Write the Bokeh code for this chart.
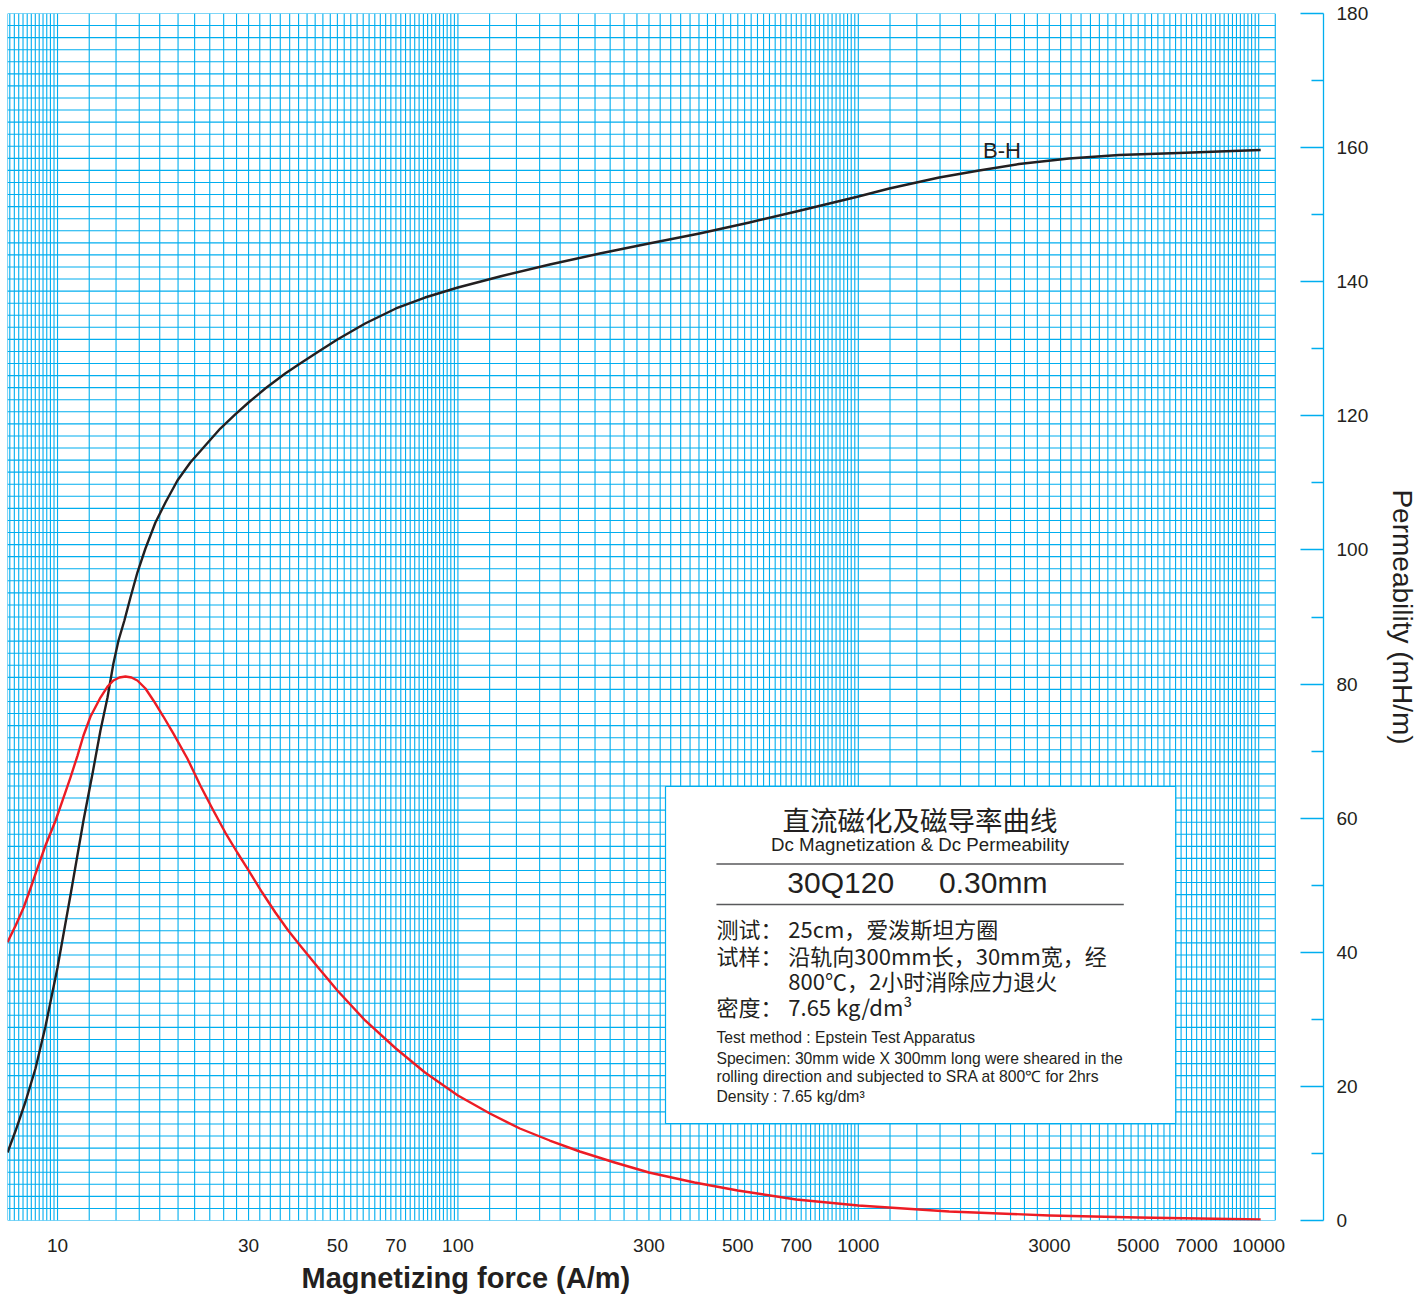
import numpy as np
from bokeh.plotting import figure
from bokeh.models import Range1d, FixedTicker, Label, PrintfTickFormatter, Title
from bokeh.embed import file_html
from bokeh.resources import INLINE

# ---- B-H curve: magnetizing force H (A/m) and flux density B (T) ----
bh_h = [7.5, 7.86, 8.32, 8.81, 9.33, 10, 10.77, 11.61, 12.23, 12.8, 13.33,
        13.79, 14.2, 14.69, 15.21, 15.83, 16.58, 17.56, 18.6, 19.93, 21.46,
        23.39, 25.5, 27.79, 30, 33.02, 37.04, 40.36, 45.28, 50, 58.65, 70,
        82.75, 100, 127.3, 169.6, 226.1, 300, 401.3, 534.9, 700, 846.9, 1000,
        1195, 1592, 2003, 2520, 3359, 4476, 6317, 7950, 10115]
bh_b = [0.1127, 0.1491, 0.1972, 0.2519, 0.3215, 0.4192, 0.5385, 0.6628,
        0.7407, 0.8119, 0.8666, 0.9230, 0.9611, 0.9942, 1.0323, 1.0737,
        1.1135, 1.1566, 1.1897, 1.2262, 1.2560, 1.2842, 1.3123, 1.3356,
        1.3554, 1.3786, 1.4035, 1.4201, 1.4416, 1.4598, 1.4863, 1.5112,
        1.5294, 1.5460, 1.5642, 1.5841, 1.6023, 1.6189, 1.6355, 1.6537,
        1.6719, 1.6852, 1.6968, 1.7100, 1.7283, 1.7399, 1.7506, 1.7597,
        1.7655, 1.7689, 1.7713, 1.7738]

# ---- permeability curve: H (A/m) and permeability (mH/m) ----
mu_h = [7.5, 7.86, 8.23, 8.56, 8.92, 9.33, 9.89, 10.29, 10.77, 11.22, 11.61,
        12.09, 12.8, 13.33, 13.79, 14.27, 14.78, 15.3, 15.83, 16.58, 17.36,
        18.38, 19.46, 21.1, 22.73, 24.35, 26.24, 28.11, 30, 32.45, 35, 37.68,
        40.36, 44.76, 50, 58.65, 70, 82.75, 100, 120.2, 142.8, 169.6, 201.5,
        246.4, 300, 389.9, 500, 700, 1000, 1686, 3000, 5000, 10115]
mu_val = [41.50, 43.99, 46.68, 49.51, 52.64, 55.92, 59.65, 62.63, 66.06,
          69.34, 72.33, 75.16, 77.99, 79.63, 80.53, 80.98, 81.13, 80.98,
          80.53, 79.34, 77.55, 75.16, 72.63, 68.90, 64.87, 61.44, 57.86,
          54.88, 52.20, 48.91, 45.93, 43.25, 41.01, 37.73, 34.30, 29.83,
          25.65, 22.07, 18.64, 15.96, 13.72, 11.93, 10.29, 8.65, 7.16, 5.67,
          4.47, 3.13, 2.24, 1.34, 0.75, 0.45, 0.15]

x_ticks = [10, 30, 50, 70, 100, 300, 500, 700, 1000, 3000, 5000, 7000, 10000]
y_ticks = list(range(0, 181, 20))
y_minor = list(range(10, 180, 20))

CYAN = "#00aeef"
INK = "#231f20"
RED = "#ed1c24"
SANS = "Liberation Sans"
CJK = "Noto Sans CJK SC"

# ---- canvas geometry (pixels) ----
W, H = 1421, 1299
FL, FR, FT, FB = 7, 1325, 13, 1220
PX_PER_DECADE = 401
X0 = 7.5
X_PAPER_END = 11000
x_end = 10 ** (np.log10(X0) + (FR - FL) / PX_PER_DECADE)


def sx(px):
    return 10 ** (np.log10(X0) + (px - FL) / PX_PER_DECADE)


def sy(py):
    return (FB - py) * 180.0 / (FB - FT)


p = figure(width=W, height=H, x_axis_type="log",
           x_range=Range1d(X0, x_end), y_range=Range1d(0, 180),
           y_axis_location="right", output_backend="svg",
           toolbar_location=None,
           min_border_left=FL, min_border_right=W - FR,
           min_border_top=FT, min_border_bottom=H - FB)
p.extra_y_ranges = {"flux": Range1d(0, 2.0)}
p.grid.visible = False
p.outline_line_color = None
p.background_fill_color = "white"
p.border_fill_color = "white"

# ---- log graph paper ----
vx = (list(np.round(np.arange(7.6, 10.01, 0.2), 1)) + list(range(12, 101, 2))
      + list(range(120, 1001, 20)) + list(range(1200, 10001, 200))
      + [X0, X_PAPER_END])
hy = list(np.round(np.arange(0, 180.01, 1.8), 2))
r1 = p.segment(x0=vx, y0=[0] * len(vx), x1=vx, y1=[180] * len(vx),
               line_color=CYAN, line_width=1.1)
r2 = p.segment(x0=[X0] * len(hy), y0=hy, x1=[X_PAPER_END] * len(hy), y1=hy,
               line_color=CYAN, line_width=1.1)
r1.level = "underlay"
r2.level = "underlay"

# ---- curves ----
p.line(bh_h, bh_b, y_range_name="flux", line_color=INK, line_width=2.4,
       line_join="round")
p.line(mu_h, mu_val, line_color=RED, line_width=2.4, line_join="round")

# ---- info box ----
p.quad(left=sx(666), right=sx(1177), top=sy(786), bottom=sy(1123),
       fill_color="white", line_color=CYAN, line_width=1.2)
p.segment(x0=[sx(717), sx(717)], x1=[sx(1125), sx(1125)],
          y0=[sy(863.5), sy(904)], y1=[sy(863.5), sy(904)],
          line_color="#58595b", line_width=1.3)


def add_text(px, py, text, size, font=SANS, align="left", style="normal"):
    p.add_layout(Label(x=sx(px), y=sy(py), text=text, text_font=font,
                       text_font_size=f"{size}px", text_color=INK,
                       text_align=align, text_baseline="middle",
                       text_font_style=style))


add_text(921, 818, "直流磁化及磁导率曲线", 27.5, CJK, "center")
add_text(921, 844, "Dc Magnetization & Dc Permeability", 18.7, SANS, "center")
add_text(788, 882, "30Q120", 30)
add_text(940, 882, "0.30mm", 30)
add_text(717, 927, "测试：", 22, CJK)
add_text(789, 927, "25cm，爱泼斯坦方圈", 22, CJK)
add_text(717, 954, "试样：", 22, CJK)
add_text(789, 954, "沿轨向300mm长，30mm宽，经", 22, CJK)
add_text(789, 979, "800℃，2小时消除应力退火", 22, CJK)
add_text(717, 1005, "密度：", 22, CJK)
add_text(789, 1005, "7.65 kg/dm³", 22, CJK)
add_text(717, 1037, "Test method : Epstein Test Apparatus", 15.7)
add_text(717, 1058, "Specimen: 30mm wide X 300mm long were sheared in the", 15.7)
add_text(717, 1076, "rolling direction and subjected to SRA at 800℃ for 2hrs", 15.7)
add_text(717, 1096, "Density : 7.65 kg/dm³", 15.7)

# curve tag
add_text(1003, 150, "B-H", 22, SANS, "center")

# ---- axes ----
xa = p.xaxis[0]
xa.ticker = FixedTicker(ticks=x_ticks)
xa.formatter = PrintfTickFormatter(format="%d")
xa.axis_line_color = None
xa.major_tick_line_color = None
xa.minor_tick_line_color = None
xa.major_label_text_font = SANS
xa.major_label_text_font_size = "19px"
xa.major_label_text_color = INK
xa.major_label_standoff = 12

# x axis title, placed toward the left of the frame
p.add_layout(Title(text="Magnetizing force (A/m)", align="left", offset=294,
                   text_font=SANS, text_font_size="29px",
                   text_font_style="bold", text_color=INK, standoff=10),
             "below")

ya = p.yaxis[0]
ya.ticker = FixedTicker(ticks=y_ticks, minor_ticks=y_minor)
ya.axis_line_color = CYAN
ya.axis_line_width = 1.3
ya.major_tick_line_color = CYAN
ya.major_tick_line_width = 1.3
ya.minor_tick_line_color = CYAN
ya.minor_tick_line_width = 1.3
ya.major_tick_in = 23
ya.major_tick_out = 0
ya.minor_tick_in = 12
ya.minor_tick_out = 0
ya.major_label_text_font = SANS
ya.major_label_text_font_size = "19px"
ya.major_label_text_color = INK
ya.major_label_standoff = 13
ya.axis_label = "Permeability (mH/m)"
ya.axis_label_text_font = SANS
ya.axis_label_text_font_size = "28px"
ya.axis_label_text_font_style = "normal"
ya.axis_label_text_color = INK
ya.axis_label_standoff = 16

open("out.html", "w").write(file_html(p, INLINE))
